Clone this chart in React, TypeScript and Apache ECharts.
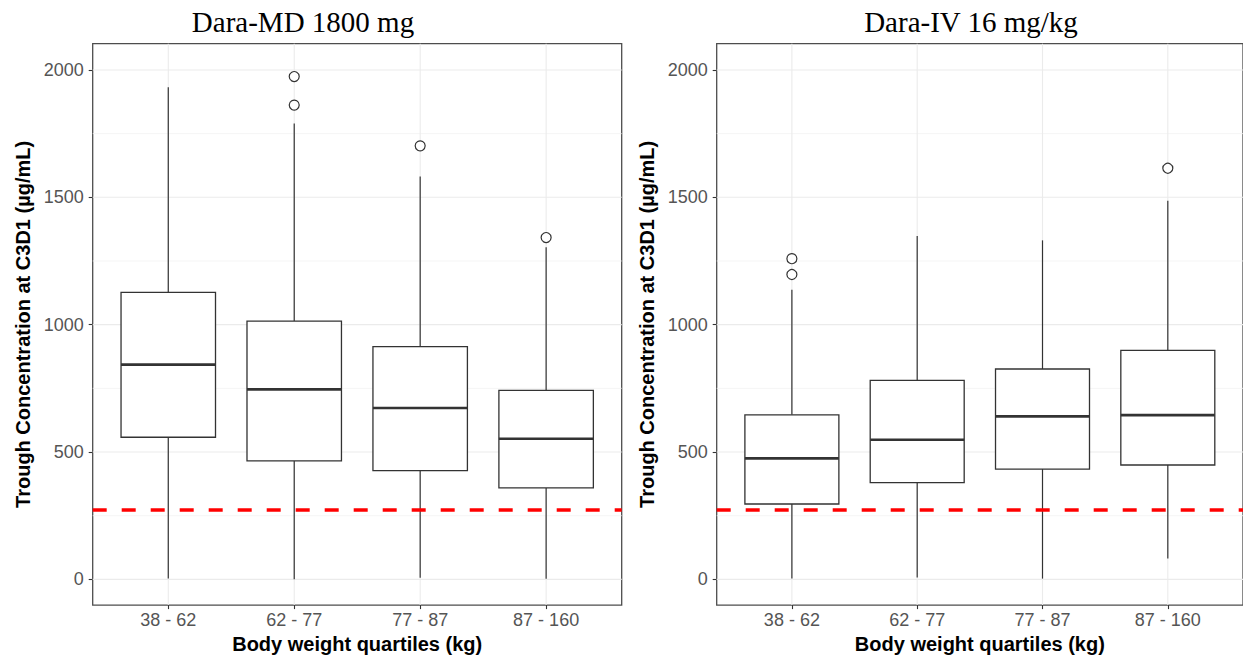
import { useEffect, useRef } from 'react';
import * as echarts from 'echarts';

// ---------- data ----------
const categories = ['38 - 62', '62 - 77', '77 - 87', '87 - 160'];
const catPos = [1, 2, 3, 4];
const yTicks = [0, 500, 1000, 1500, 2000];
const yMinor = [250, 750, 1250, 1750];
const threshold = 274;

const panelTitles = ['Dara-MD 1800 mg', 'Dara-IV 16 mg/kg'];
const yAxisTitle = 'Trough Concentration at C3D1 (\u00b5g/mL)';
const xAxisTitle = 'Body weight quartiles (kg)';

// Dara-MD 1800 mg
const mdLow = [3, 0, 6, 2];
const mdQ1 = [558, 465, 427, 359];
const mdMedian = [843, 746, 673, 552];
const mdQ3 = [1127, 1014, 914, 742];
const mdHigh = [1932, 1790, 1582, 1304];
const mdOutCat = [1, 1, 2, 3];
const mdOutVal = [1974, 1862, 1702, 1342];

// Dara-IV 16 mg/kg
const ivLow = [3, 7, 3, 82];
const ivQ1 = [296, 380, 433, 449];
const ivMedian = [475, 548, 640, 645];
const ivQ3 = [646, 781, 826, 899];
const ivHigh = [1137, 1348, 1331, 1486];
const ivOutCat = [0, 0, 3];
const ivOutVal = [1259, 1197, 1614];

// ---------- styling ----------
const SANS = 'Liberation Sans, Arial, Helvetica, sans-serif';
const SERIF = 'Liberation Serif, Times New Roman, serif';
const BOX_W = 0.75;
const X_MIN = 0.4;
const X_MAX = 4.6;
const Y_MIN = -101;
const Y_MAX = 2103;
const GRID_TOP = 43.7;
const GRID_H = 565.6;
const GRID_W = 529;
const GRID_LEFTS = [92.7, 716.7];
const TITLE_X = [298, 966];

function buildPanel(i: number, low: number[], q1: number[], med: number[], q3: number[], high: number[], outCat: number[], outVal: number[]) {
  const boxData = catPos.map((x, k) => [x, low[k], q1[k], med[k], q3[k], high[k]]);
  const outData = outCat.map((c, k) => [catPos[c], outVal[k]]);
  const hGrid = [...yTicks.map((v) => [1, v, 1]), ...yMinor.map((v) => [1, v, 0])];
  const vGrid = catPos.map((x) => [x, 0]);

  const xAxis = {
    type: 'value',
    gridIndex: i,
    min: X_MIN,
    max: X_MAX,
    name: xAxisTitle,
    nameLocation: 'middle',
    nameGap: 26,
    nameTextStyle: { fontFamily: SANS, fontSize: 20, fontWeight: 'bold', color: '#000' },
    axisLine: { show: false, onZero: false },
    axisTick: { show: true, customValues: catPos, length: 4, lineStyle: { color: '#333', width: 1.1 } },
    axisLabel: {
      customValues: catPos,
      formatter: (v: number) => categories[Math.round(v) - 1] ?? '',
      fontFamily: SANS,
      fontSize: 18,
      color: '#555',
      margin: 6,
    },
    splitLine: { show: false },
  };
  const yAxis = {
    type: 'value',
    gridIndex: i,
    min: Y_MIN,
    max: Y_MAX,
    name: yAxisTitle,
    nameLocation: 'middle',
    nameGap: 60,
    nameTextStyle: { fontFamily: SANS, fontSize: 20, fontWeight: 'bold', color: '#000' },
    axisLine: { show: false, onZero: false },
    axisTick: { show: true, customValues: yTicks, length: 4, lineStyle: { color: '#333', width: 1.1 } },
    axisLabel: {
      customValues: yTicks,
      formatter: (v: number) => String(v),
      fontFamily: SANS,
      fontSize: 18,
      color: '#555',
      margin: 9,
    },
    splitLine: { show: false },
  };

  const series: any[] = [
    {
      type: 'custom',
      name: 'hgrid' + i,
      xAxisIndex: i,
      yAxisIndex: i,
      z: 1,
      silent: true,
      data: hGrid,
      encode: { x: 0, y: 1 },
      renderItem: (params: any, api: any) => {
        const cs = params.coordSys;
        const y = api.coord([1, api.value(1)])[1];
        const major = api.value(2) === 1;
        return {
          type: 'line',
          shape: { x1: cs.x, y1: y, x2: cs.x + cs.width, y2: y },
          style: { stroke: major ? '#ebebeb' : '#f1f1f1', lineWidth: major ? 1.1 : 0.8 },
        };
      },
    },
    {
      type: 'custom',
      name: 'vgrid' + i,
      xAxisIndex: i,
      yAxisIndex: i,
      z: 1,
      silent: true,
      data: vGrid,
      encode: { x: 0, y: 1 },
      renderItem: (params: any, api: any) => {
        const cs = params.coordSys;
        const x = api.coord([api.value(0), 0])[0];
        return {
          type: 'line',
          shape: { x1: x, y1: cs.y, x2: x, y2: cs.y + cs.height },
          style: { stroke: '#ebebeb', lineWidth: 1.1 },
        };
      },
    },
    {
      type: 'custom',
      name: 'box' + i,
      xAxisIndex: i,
      yAxisIndex: i,
      z: 2,
      data: boxData,
      encode: { x: 0, y: [1, 2, 3, 4, 5] },
      renderItem: (_params: any, api: any) => {
        const x = api.value(0);
        const half = api.size([BOX_W, 0])[0] / 2;
        const c = api.coord([x, api.value(3)]);
        const cx = c[0];
        const yLo = api.coord([x, api.value(1)])[1];
        const yQ1 = api.coord([x, api.value(2)])[1];
        const yMed = c[1];
        const yQ3 = api.coord([x, api.value(4)])[1];
        const yHi = api.coord([x, api.value(5)])[1];
        const stroke = '#333';
        return {
          type: 'group',
          children: [
            { type: 'line', shape: { x1: cx, y1: yHi, x2: cx, y2: yQ3 }, style: { stroke, lineWidth: 1.2 } },
            { type: 'line', shape: { x1: cx, y1: yQ1, x2: cx, y2: yLo }, style: { stroke, lineWidth: 1.2 } },
            {
              type: 'rect',
              shape: { x: cx - half, y: yQ3, width: half * 2, height: yQ1 - yQ3 },
              style: { fill: '#fff', stroke, lineWidth: 1.3 },
            },
            { type: 'line', shape: { x1: cx - half, y1: yMed, x2: cx + half, y2: yMed }, style: { stroke, lineWidth: 2.6 } },
          ],
        };
      },
      markLine: {
        silent: true,
        symbol: ['none', 'none'],
        label: { show: false },
        lineStyle: { color: '#ff0000', width: 3.5, type: [14, 15], opacity: 1 },
        emphasis: { disabled: true },
        data: [{ yAxis: threshold }],
      },
    },
    {
      type: 'scatter',
      name: 'outliers' + i,
      xAxisIndex: i,
      yAxisIndex: i,
      z: 3,
      data: outData,
      symbol: 'circle',
      symbolSize: 10,
      itemStyle: { color: '#fff', borderColor: '#333', borderWidth: 1.2, opacity: 1 },
    },
  ];

  const grid = {
    left: GRID_LEFTS[i],
    top: GRID_TOP,
    width: GRID_W,
    height: GRID_H,
    show: true,
    backgroundColor: '#fff',
    borderColor: '#4d4d4d',
    borderWidth: 1.3,
    containLabel: false,
  };

  const title = {
    text: panelTitles[i],
    left: TITLE_X[i],
    top: 2,
    textAlign: 'center',
    textStyle: { fontFamily: SERIF, fontSize: 29, fontWeight: 'normal', color: '#000' },
  };

  return { xAxis, yAxis, series, grid, title };
}

export default function App() {
  const ref = useRef<HTMLDivElement>(null);
  useEffect(() => {
    if (!ref.current) return;
    const chart = echarts.init(ref.current, undefined, { renderer: 'svg' });
    const p0 = buildPanel(0, mdLow, mdQ1, mdMedian, mdQ3, mdHigh, mdOutCat, mdOutVal);
    const p1 = buildPanel(1, ivLow, ivQ1, ivMedian, ivQ3, ivHigh, ivOutCat, ivOutVal);
    chart.setOption({
      animation: false,
      backgroundColor: '#fff',
      title: [p0.title, p1.title],
      grid: [p0.grid, p1.grid],
      xAxis: [p0.xAxis, p1.xAxis],
      yAxis: [p0.yAxis, p1.yAxis],
      series: [...p0.series, ...p1.series],
    } as any);
    return () => chart.dispose();
  }, []);
  return (
    <div
      ref={ref}
      style={{ position: 'fixed', left: 0, top: 0, width: 1243, height: 659, background: '#fff' }}
    />
  );
}
